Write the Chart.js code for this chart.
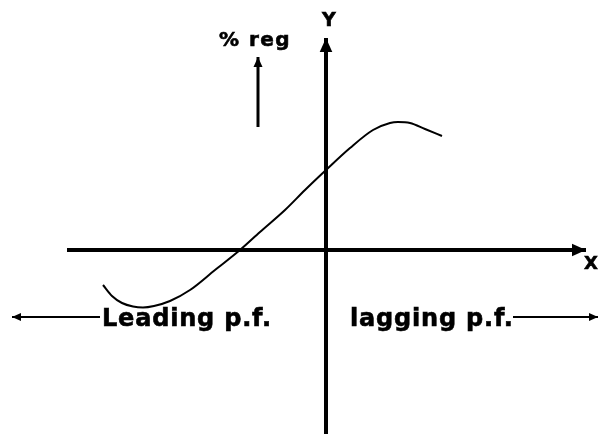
<!DOCTYPE html>
<html>
<head>
<meta charset="utf-8">
<script src="https://cdn.jsdelivr.net/npm/chart.js@4"></script>
<style>
  html, body { margin: 0; padding: 0; background: #fff; }
  #grafico { display: block; }
</style>
</head>
<body>
<canvas id="grafico" width="600" height="434"></canvas>
<script>
// curva % regolazione in funzione del fattore di potenza (unita' arbitrarie)
let curvaX = [-22.3, -21.4, -20.4, -19.3, -18.3, -17.2, -15.6, -13.6, -11.1, -8.6, -6.6, -4.1, -2.1, 0, 2.4, 4.7, 6.4, 7.2, 8.4, 9.9, 11.6];
let curvaY = [-3.5, -4.6, -5.3, -5.65, -5.75, -5.6, -5.1, -4.0, -2.0, 0, 1.8, 4.0, 6.0, 8.0, 10.2, 12.0, 12.7, 12.8, 12.7, 12.1, 11.4];

// assi e frecce (inizio, fine)
let assex = [[-25.9, 0], [26.0, 0]];
let assey = [[0, -18.6], [0, 21.2]];
let frecciaReg = [[-6.8, 12.3], [-6.8, 19.3]];
let frecciaSx = [[-22.6, -6.7], [-31.4, -6.7]];
let frecciaDx = [[18.7, -6.7], [27.2, -6.7]];

// testi
let etichette = ["Y", "X", "% reg", "Leading p.f.", "lagging p.f."];

let punti = (arr) => arr.map(p => ({ x: p[0], y: p[1] }));

function linea(arr, spessore, punta) {
    return {
        data: punti(arr),
        showLine: true,
        borderColor: '#000',
        borderWidth: spessore,
        pointRadius: 0,
        tension: 0,
        clip: false,
        freccia: punta
    };
}

// disegna le punte delle frecce alla fine delle linee
const punte = {
    id: 'punte',
    afterDatasetsDraw(chart) {
        const ctx = chart.ctx;
        chart.data.datasets.forEach((ds, i) => {
            if (!ds.freccia) return;
            const el = chart.getDatasetMeta(i).data;
            const a = el[el.length - 2], b = el[el.length - 1];
            const ang = Math.atan2(b.y - a.y, b.x - a.x);
            const L = ds.freccia, W = ds.freccia * 0.45;
            ctx.save();
            ctx.translate(b.x, b.y);
            ctx.rotate(ang);
            ctx.fillStyle = '#000';
            ctx.beginPath();
            ctx.moveTo(0, 0);
            ctx.lineTo(-L, -W);
            ctx.lineTo(-L, W);
            ctx.closePath();
            ctx.fill();
            ctx.restore();
        });
    }
};

// testi posizionati tramite le scale
const testi = {
    id: 'testi',
    afterDraw(chart) {
        const ctx = chart.ctx;
        const sx = chart.scales.x, sy = chart.scales.y;
        const scrivi = (t, x, y, size, align, sp) => {
            ctx.save();
            ctx.font = 'bold ' + size + 'px "DejaVu Sans"';
            ctx.fillStyle = '#000';
            ctx.strokeStyle = '#000';
            ctx.lineWidth = 0.6;
            ctx.textAlign = align;
            ctx.textBaseline = 'alphabetic';
            ctx.letterSpacing = sp + 'px';
            const px = sx.getPixelForValue(x), py = sy.getPixelForValue(y);
            ctx.fillText(t, px, py);
            ctx.strokeText(t, px, py);
            ctx.restore();
        };
        scrivi(etichette[0], 0.3, 22.4, 19, 'center', 0);
        scrivi(etichette[1], 26.5, -1.9, 18, 'center', 0);
        scrivi(etichette[2], -7.1, 20.4, 20, 'center', 1.5);
        scrivi(etichette[3], -22.4, -7.6, 24, 'left', 0.8);
        scrivi(etichette[4], 2.4, -7.6, 24, 'left', 0.8);
    }
};

let grafico = new Chart(document.getElementById('grafico'), {
    type: 'scatter',
    data: {
        datasets: [
            {
                data: curvaX.map((x, i) => ({ x: x, y: curvaY[i] })),
                showLine: true,
                borderColor: '#000',
                borderWidth: 2,
                pointRadius: 0,
                cubicInterpolationMode: 'monotone',
                clip: false
            },
            linea(assex, 4, 14),
            linea(assey, 4, 14),
            linea(frecciaReg, 3, 10),
            linea(frecciaSx, 2, 9),
            linea(frecciaDx, 2, 9)
        ]
    },
    options: {
        responsive: false,
        animation: false,
        layout: { padding: 0 },
        plugins: {
            legend: { display: false },
            tooltip: { enabled: false }
        },
        scales: {
            x: { type: 'linear', display: false, min: -32.6, max: 27.4 },
            y: { type: 'linear', display: false, min: -18.4, max: 25.0 }
        }
    },
    plugins: [punte, testi]
});
</script>
</body>
</html>
